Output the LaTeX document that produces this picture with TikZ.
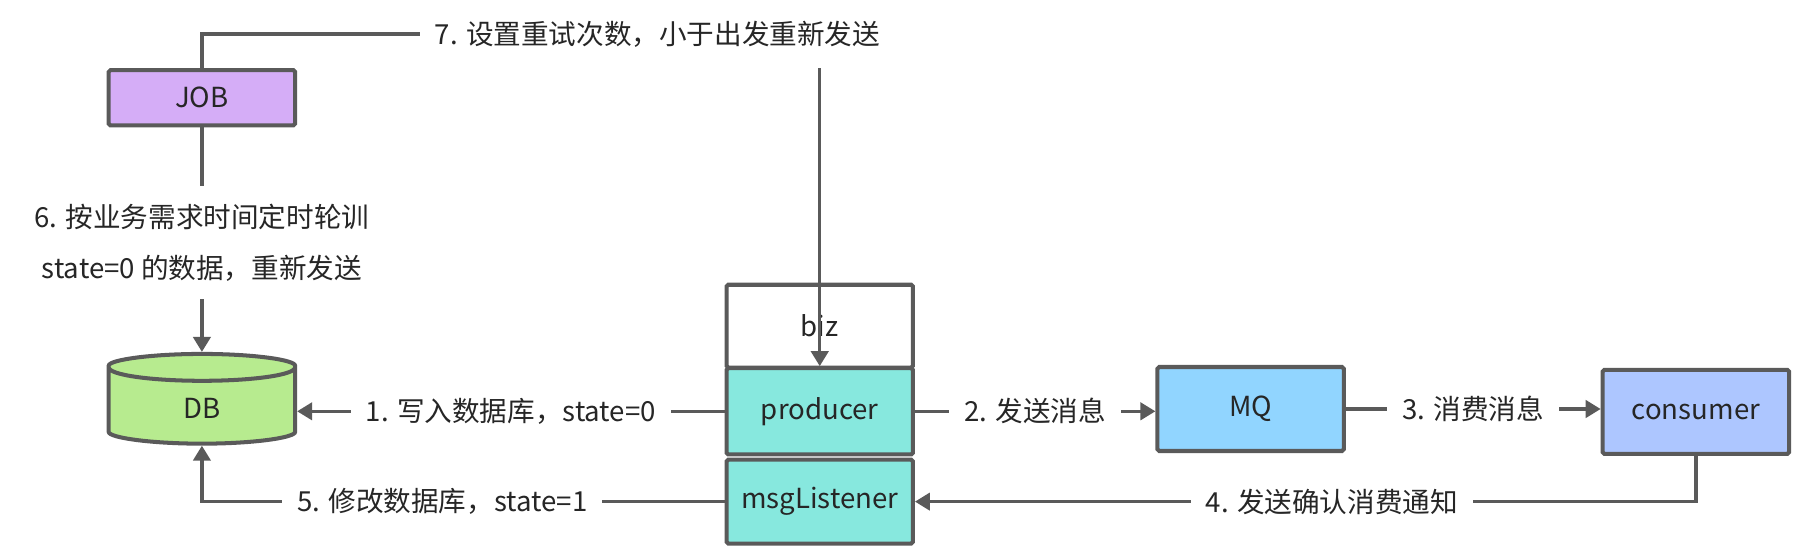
\documentclass[tikz,border=0pt]{standalone}
\usepackage{fontspec}
\setmainfont{Noto Sans CJK SC}
\usetikzlibrary{arrows.meta,shapes.geometric}
\definecolor{linegray}{HTML}{5A5A5A}
\definecolor{textgray}{HTML}{262626}
\definecolor{jobfill}{HTML}{D5ADF7}
\definecolor{dbfill}{HTML}{B7EB8F}
\definecolor{cyanfill}{HTML}{87E8DE}
\definecolor{mqfill}{HTML}{91D5FF}
\definecolor{consfill}{HTML}{ADC6FF}

\begin{document}
\begin{tikzpicture}[x=1pt,y=-1pt,
  box/.style={draw=linegray,line width=3.5pt,rounded corners=1.5pt,minimum width=162pt,
    text=textgray,font=\fontsize{24}{28}\selectfont},
  lbl/.style={fill=white,inner xsep=13pt,inner ysep=2pt,text=textgray,
    font=\fontsize{24}{28}\selectfont},
  link/.style={draw=linegray,line width=2.9pt},
  flow/.style={link,-{Triangle[length=13pt,width=15pt]}}]
\useasboundingbox (0,0) rectangle (1568,478);
\node [box,fill=jobfill,minimum height=48pt] (job) at (175.5,85) {JOB};
\node [box,fill=dbfill,cylinder,shape border rotate=90,aspect=0.6,
  minimum height=78pt] (db) at (175.5,355) {DB};
\node [box,fill=white,minimum height=72pt] (biz) at (712.5,283.5) {biz};
\node [box,fill=cyanfill,minimum height=75pt] (producer) at (712.5,357.5) {producer};
\node [box,fill=cyanfill,minimum height=73pt] (listener) at (712.5,436) {msgListener};
\node [box,fill=mqfill,minimum height=73pt] (mq) at (1087,355.5) {MQ};
\node [box,fill=consfill,minimum height=73pt] (consumer) at (1474,358) {consumer};
% labels that sit between the lines
\node [lbl,minimum height=59pt] (retry) at (571.5,29.6) {7. 设置重试次数，小于出发重新发送};
\node [lbl,minimum height=98pt,align=center,font=\fontsize{24}{45}\selectfont] (poll)
  at (175.5,211) {6. 按业务需求时间定时轮训\\state=0 的数据，重新发送};
\draw [link] (job.north) |- (retry.west);
\draw [flow] (retry.south -| producer.north) -- (producer.north);
\draw [link] (job.south) -- (poll.north);
\draw [flow] (poll.south) -- (db.north);
\draw [flow] (producer.west) -- node [lbl] {1. 写入数据库，state=0} (producer.west -| db.east);
\draw [flow] (producer.east) -- node [lbl] {2. 发送消息} (producer.east -| mq.west);
\draw [flow] (mq.east) -- node [lbl] {3. 消费消息} (mq.east -| consumer.west);
\draw [flow] (consumer.south) |- node [lbl,pos=0.733] {4. 发送确认消费通知} (listener.east);
\draw [flow] (listener.west) -| node [lbl,pos=0.27] {5. 修改数据库，state=1} (db.south);
\end{tikzpicture}
\end{document}
